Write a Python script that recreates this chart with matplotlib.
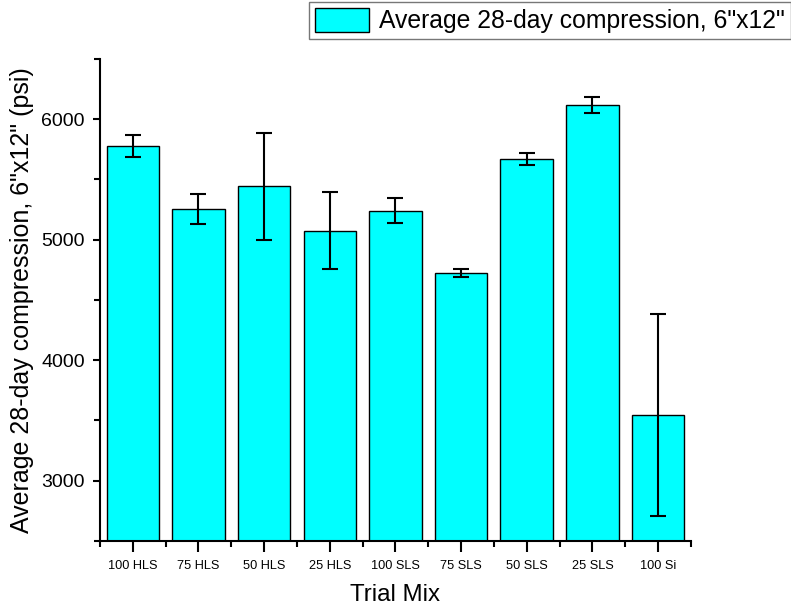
import numpy as np
import matplotlib
matplotlib.use("Agg")
import matplotlib.pyplot as plt
from matplotlib.ticker import MultipleLocator, FixedLocator

plt.rcParams['font.family'] = ['Liberation Sans', 'DejaVu Sans']

# data
mixes = ["100 HLS", "75 HLS", "50 HLS", "25 HLS", "100 SLS",
         "75 SLS", "50 SLS", "25 SLS", "100 Si"]
strength = [5779, 5256, 5443, 5076, 5242, 4723, 5669, 6118, 3546]
std_dev = [93, 123, 446, 323, 106, 32, 52, 70, 841]

fig = plt.figure(figsize=(7.91, 6.13), dpi=100)
ax = fig.add_axes([0.1264, 0.1175, 0.747, 0.7863])

x = np.arange(len(mixes))
bars = ax.bar(x, strength, width=0.8, color='#00FFFF', edgecolor='black',
              linewidth=1.0, label='Average 28-day compression, 6"x12"', zorder=2)
ax.errorbar(x, strength, yerr=std_dev, fmt='none', ecolor='black',
            elinewidth=1.5, capsize=5.5, capthick=1.5, zorder=3)

ax.set_xlim(-0.5, len(mixes) - 0.5)
ax.set_ylim(2500, 6500)
ax.set_xticks(x)
ax.set_xticklabels(mixes, fontsize=9.2)
ax.xaxis.set_minor_locator(FixedLocator(np.arange(-0.5, len(mixes), 1.0)))
ax.yaxis.set_major_locator(MultipleLocator(1000))
ax.yaxis.set_minor_locator(MultipleLocator(500))

for side in ['top', 'right']:
    ax.spines[side].set_visible(False)
for side in ['left', 'bottom']:
    ax.spines[side].set_linewidth(1.5)

ax.tick_params(axis='y', which='major', direction='out', length=5, width=1.5,
               labelsize=14, pad=6)
ax.tick_params(axis='y', which='minor', direction='out', length=4, width=1.5)
ax.tick_params(axis='x', which='major', direction='out', length=8, width=1.5, pad=6)
ax.tick_params(axis='x', which='minor', direction='out', length=4, width=1.5)

ax.set_xlabel('Trial Mix', fontsize=17.3, labelpad=8)
ax.set_ylabel('Average 28-day compression, 6"x12" (psi)', fontsize=18, labelpad=5)

leg = fig.legend(handles=[bars], loc='upper right', bbox_to_anchor=(1.0, 0.997),
                 fontsize=17.8, frameon=True, fancybox=False, borderpad=0.25,
                 handlelength=2.2, handleheight=1.1, handletextpad=0.4,
                 borderaxespad=0.0)
leg.get_frame().set_edgecolor('#555555')
leg.get_frame().set_linewidth(1.0)

fig.savefig('out.png', dpi=100)
